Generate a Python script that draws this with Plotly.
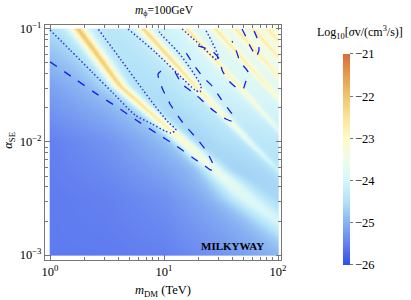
import numpy as np
import plotly.graph_objects as go

# ---------------- tick labels ----------------
x_tick_vals = [1, 10, 100]
x_tick_text = ["10<sup>0</sup>", "10<sup>1</sup>", "10<sup>2</sup>"]
x_minor_vals = [2, 3, 4, 5, 6, 7, 8, 9, 20, 30, 40, 50, 60, 70, 80, 90]
y_tick_vals = [1e-3, 1e-2, 1e-1]
y_tick_text = ["10<sup>−3</sup>", "10<sup>−2</sup>", "10<sup>−1</sup>"]
y_minor_vals = [2e-3, 3e-3, 4e-3, 5e-3, 6e-3, 7e-3, 8e-3, 9e-3,
                2e-2, 3e-2, 4e-2, 5e-2, 6e-2, 7e-2, 8e-2, 9e-2]
cbar_ticks = [-26, -25, -24, -23, -22, -21]

# ---------------- smooth background, log10[sigma v] ----------------
bg_logm = [0.0, 0.5, 1.0, 1.5, 2.0]
bg_logalpha = [-3.0, -2.5, -2.0, -1.5, -1.0]
bg_log_sv = [
    [-25.55, -25.55, -25.5, -25.3, -25.0],    # alpha = 1e-3
    [-25.55, -25.5, -25.35, -25.0, -24.7],    # alpha = 10^-2.5
    [-25.5, -25.3, -24.95, -24.55, -24.35],   # alpha = 1e-2
    [-25.15, -24.8, -24.45, -24.05, -23.8],   # alpha = 10^-1.5
    [-24.6, -24.45, -24.15, -23.7, -23.35],   # alpha = 1e-1
]

# ---------------- resonance ridges ----------------
res_logalpha = [-3.0, -2.5, -2.25, -2.0, -1.75, -1.5, -1.25, -1.0]
res_center_logm = [
    [2.39, 1.73, 1.45, 1.175, 0.89, 0.61, 0.43, 0.246],
    [2.72, 2.24, 2.0, 1.75, 1.51, 1.27, 1.045, 0.82],
    [3.0, 2.55, 2.325, 2.1, 1.875, 1.65, 1.425, 1.2],
    [3.25, 2.8, 2.575, 2.35, 2.125, 1.9, 1.675, 1.45],
    [3.43, 2.98, 2.755, 2.53, 2.305, 2.08, 1.855, 1.63],
    [3.58, 3.13, 2.905, 2.68, 2.455, 2.23, 2.005, 1.78],
    [3.71, 3.26, 3.035, 2.81, 2.585, 2.36, 2.135, 1.91],
    [3.82, 3.37, 3.145, 2.92, 2.695, 2.47, 2.245, 2.02],
]
res_peak = [
    [-24.4, -23.9, -23.6, -23.1, -22.6, -22.3, -22.1, -22.0],
    [-25.3, -24.8, -24.4, -23.8, -23.2, -22.7, -22.4, -22.3],
    [-25.5, -25.0, -24.6, -24.1, -23.5, -23.0, -22.75, -22.6],
    [-25.5, -25.0, -24.6, -24.1, -23.5, -23.0, -22.75, -22.65],
    [-25.5, -25.0, -24.6, -24.1, -23.5, -23.0, -22.8, -22.7],
    [-25.5, -25.0, -24.6, -24.1, -23.5, -23.05, -22.8, -22.7],
    [-25.5, -25.0, -24.6, -24.1, -23.5, -23.1, -22.85, -22.75],
    [-25.5, -25.0, -24.6, -24.1, -23.5, -23.1, -22.9, -22.8],
]
res_width = [
    [0.22, 0.16, 0.08, 0.05, 0.036, 0.034, 0.034, 0.034],
    [0.07, 0.06, 0.05, 0.042, 0.035, 0.032, 0.032, 0.032],
    [0.05, 0.04, 0.036, 0.033, 0.031, 0.03, 0.03, 0.03],
    [0.05, 0.04, 0.036, 0.033, 0.031, 0.03, 0.03, 0.03],
    [0.05, 0.04, 0.036, 0.033, 0.031, 0.029, 0.029, 0.029],
    [0.05, 0.04, 0.036, 0.033, 0.031, 0.028, 0.028, 0.028],
    [0.05, 0.04, 0.036, 0.033, 0.031, 0.027, 0.027, 0.027],
    [0.05, 0.04, 0.036, 0.033, 0.031, 0.027, 0.027, 0.027],
]

# ---------------- contour curves ----------------
dotted_curves = [
    ([1.0, 1.497, 2.335, 3.57, 5.57, 7.85, 10.2, 11.52, 12.74, 10.84, 8.34, 6.54, 4.20, 2.64],
     [0.098, 0.0652, 0.0416, 0.0271, 0.01733, 0.01443, 0.01252, 0.01201, 0.01277, 0.01503,
      0.02083, 0.02885, 0.0532, 0.1]),
    ([4.83, 8.34, 13.81, 18.71, 20.70, 21.12, 16.91, 13.27, 9.22, 8.86],
     [0.1, 0.0626, 0.03837, 0.02885, 0.0277, 0.0313, 0.04518, 0.0626, 0.0922, 0.1]),
    ([14.39, 20.70, 28.03, 29.17, 29.77, 26.37, 22.89],
     [0.1, 0.0722, 0.0543, 0.0532, 0.0577, 0.0767, 0.1]),
]
dashed_curves = [
    ([1.0, 1.657, 2.64, 3.87, 5.68, 8.51, 12.49, 17.97, 22.89, 25.84, 28.03, 26.37, 23.84,
      19.87, 14.68, 11.29, 9.80, 9.04, 8.86, 9.41],
     [0.0511, 0.0361, 0.0261, 0.0204, 0.01566, 0.01201, 0.00941, 0.00722, 0.00613, 0.00565,
      0.00589, 0.00665, 0.00816, 0.01041, 0.01473, 0.0217, 0.02885, 0.03538, 0.03998, 0.0425]),
    ([12.49, 14.39, 19.09, 27.45, 34.99, 39.50, 41.12, 37.17, 31.62, 26.37, 21.98, 17.97, 16.24, 14.68],
     [0.0416, 0.0326, 0.0261, 0.0188, 0.01597, 0.01534, 0.01665, 0.0192, 0.024, 0.0313, 0.0376,
      0.049, 0.0577, 0.0679]),
    ([19.87, 26.37, 30.98, 32.27, 36.42, 43.70, 49.32, 51.35, 54.56, 46.42, 42.81, 39.50],
     [0.0707, 0.0639, 0.0532, 0.0434, 0.0354, 0.03, 0.0294, 0.0326, 0.0416, 0.0511, 0.0652, 0.0783]),
    ([48.3, 52.4, 56.8, 61.6, 64.1, 68.1, 65.4, 60.4],
     [0.1, 0.085, 0.0707, 0.0613, 0.0565, 0.0652, 0.0833, 0.1]),
]

# ---------------- build the field ----------------
N = 360
U = np.linspace(0.0, 2.0, N)
Wv = np.linspace(-3.0, -1.0, N)
UU, WW = np.meshgrid(U, Wv)

bgZ = np.array(bg_log_sv)
rows = np.array([np.interp(UU, bg_logm, bgZ[j]) for j in range(len(bg_logalpha))])
t = np.interp(WW, bg_logalpha, np.arange(len(bg_logalpha)))
j0 = np.clip(np.floor(t).astype(int), 0, len(bg_logalpha) - 2)
f = t - j0
ii, kk = np.indices(UU.shape)
B = rows[j0, ii, kk] * (1 - f) + rows[j0 + 1, ii, kk] * f

lin = 10.0 ** B
for cu, pk, wd in zip(res_center_logm, res_peak, res_width):
    c = np.interp(WW, res_logalpha, cu)
    p = np.interp(WW, res_logalpha, pk)
    lam = np.interp(WW, res_logalpha, wd)
    dist = np.abs(UU - c)
    d = dist / lam
    drop = np.sqrt(d ** 2 + 0.09) - 0.3
    lin = lin + 10.0 ** (p - drop)
    lin = lin + 10.0 ** (p - 1.8 - dist / (5.0 * lam))   # faint halo
Z = np.log10(lin)

m_vals = 10.0 ** U
a_vals = 10.0 ** Wv

colorscale = [
    [0.0, "rgb(45,78,235)"],
    [0.1, "rgb(100,128,240)"],
    [0.2, "rgb(135,178,242)"],
    [0.3, "rgb(178,226,248)"],
    [0.4, "rgb(215,246,250)"],
    [0.5, "rgb(240,252,232)"],
    [0.6, "rgb(255,249,200)"],
    [0.7, "rgb(250,228,155)"],
    [0.8, "rgb(240,196,112)"],
    [0.9, "rgb(230,155,82)"],
    [1.0, "rgb(218,108,58)"],
]

fig = go.Figure()
fig.add_trace(go.Heatmap(
    x=m_vals, y=a_vals, z=Z, zmin=-26, zmax=-21, colorscale=colorscale,
    zsmooth="best",
    colorbar=dict(
        x=1.2627, xanchor="left", xpad=0, y=0.4277, yanchor="middle", ypad=0,
        lenmode="pixels", len=211, thickness=7, outlinewidth=0,
        tickvals=cbar_ticks, ticks="outside", ticklen=3, tickcolor="#777",
        tickfont=dict(family="Liberation Serif", size=12.5, color="black"),
    ),
    hoverinfo="skip",
))

for xs, ys in dotted_curves:
    fig.add_trace(go.Scatter(x=xs, y=ys, mode="lines", showlegend=False, hoverinfo="skip",
                             line=dict(color="rgb(45,55,225)", width=1.5, dash="1.5px,2.2px",
                                       shape="spline", smoothing=0.6)))
for xs, ys in dashed_curves:
    fig.add_trace(go.Scatter(x=xs, y=ys, mode="lines", showlegend=False, hoverinfo="skip",
                             line=dict(color="rgb(20,30,235)", width=1.3, dash="8px,9px",
                                       shape="spline", smoothing=0.6)))

axis_font = dict(family="Liberation Serif", size=12.5, color="black")
fig.update_layout(
    width=411, height=300,
    margin=dict(l=45, r=130, t=25, b=40, autoexpand=False),
    paper_bgcolor="white", plot_bgcolor="white",
    showlegend=False,
    xaxis=dict(type="log", range=[-0.044, 2.026], tickvals=x_tick_vals, ticktext=x_tick_text,
               automargin=False,
               ticks="inside", ticklen=5, tickcolor="#777", showline=True, linecolor="#777",
               linewidth=1, mirror="allticks", showgrid=False, zeroline=False, tickfont=axis_font,
               minor=dict(tickvals=x_minor_vals, ticks="inside", ticklen=3, tickcolor="#777",
                          showgrid=False)),
    yaxis=dict(type="log", range=[-3.044, -0.965], tickvals=y_tick_vals, ticktext=y_tick_text,
               automargin=False,
               ticks="inside", ticklen=5, tickcolor="#777", showline=True, linecolor="#777",
               linewidth=1, mirror="allticks", showgrid=False, zeroline=False, tickfont=axis_font,
               minor=dict(tickvals=y_minor_vals, ticks="inside", ticklen=3, tickcolor="#777",
                          showgrid=False)),
    annotations=[
        dict(text="<i>m</i><sub>ϕ</sub>=100GeV", xref="paper", yref="paper", x=0.508, y=1.06,
             xanchor="center", yanchor="middle", showarrow=False,
             font=dict(family="Liberation Serif", size=11.5, color="black")),
        dict(text="<i>m</i><sub>DM</sub> (TeV)", xref="paper", yref="paper", x=0.5, y=-0.132,
             xanchor="center", yanchor="middle", showarrow=False,
             font=dict(family="Liberation Serif", size=12.5, color="black")),
        dict(text="<i>α</i><sub>SE</sub>", xref="paper", yref="paper", x=-0.15, y=0.51,
             xanchor="center", yanchor="middle", textangle=-90, showarrow=False,
             font=dict(family="Liberation Serif", size=12.5, color="black")),
        dict(text="Log<sub>10</sub>[<i>σ</i>v/(cm<sup>3</sup>/s)]", xref="paper", yref="paper",
             x=1.335, y=0.966, xanchor="center", yanchor="middle", showarrow=False,
             font=dict(family="Liberation Serif", size=12, color="black")),
        dict(text="<b>MILKYWAY</b>", xref="paper", yref="paper", x=0.936, y=0.06,
             xanchor="right", yanchor="middle", showarrow=False,
             font=dict(family="Liberation Serif", size=11, color="black")),
    ],
)

fig.write_html("out.html", post_script="document.body.style.margin='0';",
               config={"displayModeBar": False})
